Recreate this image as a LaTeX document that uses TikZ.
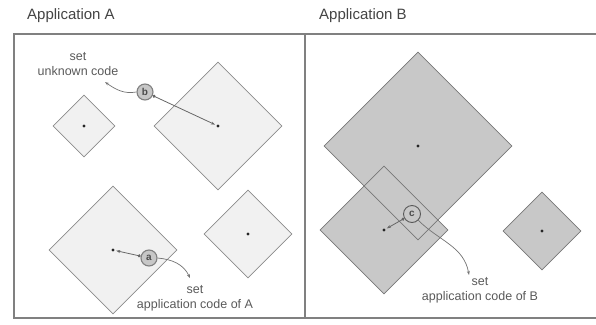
\documentclass[tikz,border=0pt]{standalone}
\usepackage{fontspec}
\setmainfont{Liberation Sans}
\usetikzlibrary{shapes.geometric,arrows.meta}
\definecolor{frameC}{HTML}{808080}
\definecolor{fillA}{HTML}{F1F1F1}
\definecolor{edgeA}{HTML}{8C8C8C}
\definecolor{fillB}{HTML}{C8C8C8}
\definecolor{edgeB}{HTML}{777777}
\definecolor{txtC}{HTML}{5A5A5A}
\definecolor{ttlC}{HTML}{444444}
\tikzset{
  frameline/.style={draw=frameC,line width=1.1pt},
  dmA/.style={diamond,shape aspect=1,inner sep=0pt,fill=fillA,draw=edgeA,line width=0.8pt},
  dmBfill/.style={diamond,shape aspect=1,inner sep=0pt,fill=fillB,draw=none},
  dmBedge/.style={diamond,shape aspect=1,inner sep=0pt,draw=edgeB,line width=0.8pt},
  cdot/.style={circle,fill=black!85,inner sep=0pt,minimum size=3.2pt},
  marker/.style={circle,fill=black!22,draw=black!50,line width=1.1pt,inner sep=0pt,minimum size=16pt,font=\fontsize{10}{12}\selectfont\bfseries,text=black!70},
  markerc/.style={circle,draw=black!65,line width=0.9pt,inner sep=0pt,minimum size=17pt,font=\fontsize{10}{12}\selectfont\bfseries,text=black!70},
  ptr/.style={draw=black!60,line width=0.8pt,{Circle[length=3pt]}-{Stealth[length=4pt]}},
  curvy/.style={draw=black!55,line width=0.7pt,-{Stealth[length=4pt,open]}},
  ttl/.style={font=\fontsize{15}{18}\selectfont,text=ttlC,anchor=west,inner sep=0pt},
  lbl/.style={font=\fontsize{12.5}{15}\selectfont,text=txtC,align=center,inner sep=0pt}
}
\begin{document}
\begin{tikzpicture}[x=1pt,y=-1pt]
\useasboundingbox (0,0) rectangle (596,324);
% titles
\node[ttl] (tA) at (27,16) {Application A};
\node[ttl] (tB) at (319,16) {Application B};
% frame
\coordinate (tl) at (14,34);
\coordinate (tr) at (596,34);
\coordinate (bl) at (14,318);
\coordinate (br) at (596,318);
\coordinate (mt) at (305,34);
\coordinate (mb) at (305,318);
\draw[frameline] (tr) -- (tl) -- (bl) -- (br);
\draw[frameline] (mt) -- (mb);
% panel A diamonds
\node[dmA,minimum size=62pt] (dA1) at (84,126) {};
\node[dmA,minimum size=128pt] (dA2) at (218,126) {};
\node[dmA,minimum size=128pt] (dA3) at (113,250) {};
\node[dmA,minimum size=88pt] (dA4) at (248,234) {};
\node[cdot] (cA1) at (dA1.center) {};
\node[cdot] (cA2) at (dA2.center) {};
\node[cdot] (cA3) at (dA3.center) {};
\node[cdot] (cA4) at (dA4.center) {};
% panel B diamonds
\node[dmBfill,minimum size=188pt] (dB1) at (418,146) {};
\node[dmBfill,minimum size=128pt] (dB2) at (384,230) {};
\node[dmBfill,minimum size=78pt] (dB3) at (542,231) {};
\node[dmBedge,minimum size=188pt] at (dB1.center) {};
\node[dmBedge,minimum size=128pt] at (dB2.center) {};
\node[dmBedge,minimum size=78pt] at (dB3.center) {};
\node[cdot] (cB1) at (dB1.center) {};
\node[cdot] (cB2) at (dB2.center) {};
\node[cdot] (cB3) at (dB3.center) {};
% markers
\node[marker] (mb1) at (145,92) {b};
\node[marker] (ma1) at (149,258) {a};
\node[markerc] (mc1) at (412,214) {c};
% pointers
\draw[ptr,shorten >=1.5pt] (mb1) -- (cA2);
\draw[ptr,shorten >=1.5pt] (ma1) -- (cA3);
\draw[ptr,shorten >=1.5pt] (mc1) -- (cB2);
% labels
\node[lbl] (lb) at (78,64) {set\\unknown code};
\node[lbl] (la) at (195,298) {set\\application code of A};
\node[lbl] (lc) at (480,290) {set\\application code of B};
\coordinate (eb) at (105,82);
\coordinate (ea) at (190,278);
\coordinate (ec) at (469,275);
\draw[curvy] (mb1.west) to[out=190,in=-35] (eb);
\draw[curvy] (ma1.east) to[out=-5,in=115] (ea);
\draw[curvy] (mc1.south east) to[out=-45,in=100] (ec);
\end{tikzpicture}
\end{document}
